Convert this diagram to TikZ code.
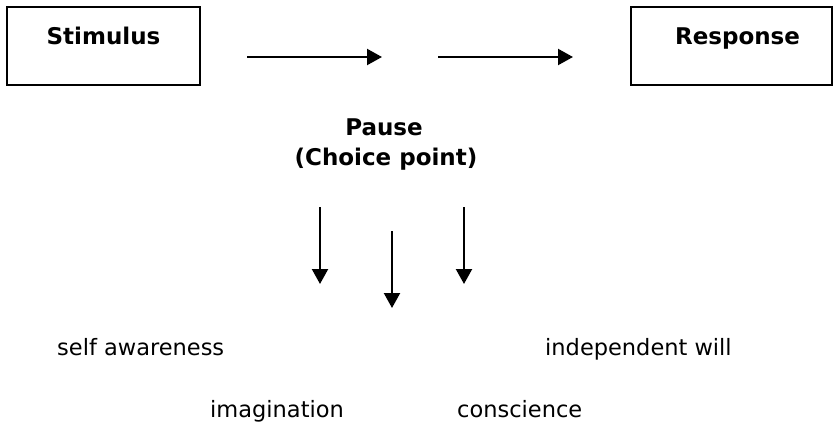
\documentclass[tikz,border=0pt]{standalone}
\usepackage{fontspec}
\setmainfont{DejaVu Sans}
\usetikzlibrary{arrows.meta,positioning}

\tikzset{
	box/.style={draw, line width=2pt, minimum height=78pt, inner sep=0pt},
	head/.style={font=\fontsize{23}{28}\selectfont\bfseries, inner sep=0pt, anchor=base},
	word/.style={font=\fontsize{22.5}{27}\selectfont, inner sep=0pt, anchor=base west},
	arr/.style={line width=2.2pt, -{Triangle[length=15pt,width=16pt]}}
}

\begin{document}
\begin{tikzpicture}[x=1pt, y=-1pt]
			%%%%% START %%%%%
			\useasboundingbox (0, 0) rectangle (833, 425);
			
			% boxes
			\node[box, minimum width=193pt] (stimbox) at (103.5, 46) {};
			\node[box, minimum width=201pt] (respbox) at (731.5, 46) {};
			\node[head] (stim) at (103.5, 45) {Stimulus};
			\node[head] (resp) at (737.5, 45) {Response};
			
			% across
			\coordinate (a1) at (247, 57);
			\coordinate (b1) at (382, 57);
			\coordinate (a2) at (438, 57);
			\coordinate (b2) at (573, 57);
			\draw[arr] (a1) -- (b1);
			\draw[arr] (a2) -- (b2);
			
			% pause
			\node[head] (pause) at (384, 136) {Pause};
			\node[head] (choice) at (386, 166) {(Choice point)};
			
			% down
			\coordinate (d1) at (320, 207);
			\coordinate (e1) at (320, 284);
			\coordinate (d2) at (392, 231);
			\coordinate (e2) at (392, 308);
			\coordinate (d3) at (464, 207);
			\coordinate (e3) at (464, 284);
			\draw[arr] (d1) -- (e1);
			\draw[arr] (d2) -- (e2);
			\draw[arr] (d3) -- (e3);
			
			% the four
			\node[word] (self) at (57, 355) {self awareness};
			\node[word] (will) at (545, 355) {independent will};
			\node[word] (imag) at (210, 417) {imagination};
			\node[word] (consc) at (457, 417) {conscience};
			%%%%% END %%%%%
\end{tikzpicture}
\end{document}
